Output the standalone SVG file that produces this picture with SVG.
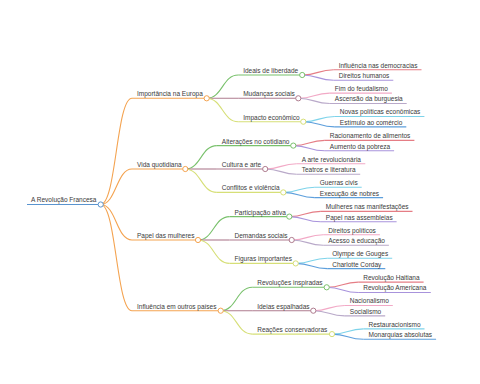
<svg xmlns="http://www.w3.org/2000/svg" width="480" height="384" viewBox="0 0 480 384">
<style>
text{font-family:"Liberation Sans",Arial,sans-serif;font-size:6.5px;fill:#3a3a3a}
path,line{fill:none;stroke-width:1.1}
circle{fill:#fff;stroke-width:1}
.blu{stroke:#5a94cf}.org{stroke:#f4a350}.grn{stroke:#79c16c}.mav{stroke:#ae7b8e}.yel{stroke:#d6df77}
.red{stroke:#e57d85}.pur{stroke:#a893dc}.pnk{stroke:#f2a9c6}.lav{stroke:#b9a9c9}.cya{stroke:#7dd3ea}.bl2{stroke:#5d9fdc}
</style>
<rect width="480" height="384" fill="#fff"/>
<g id="connectors">
<path class="org" d="M100.7,204.5 C116.3,204.5 116.3,98.3 132,98.3"/>
<path class="org" d="M100.7,204.5 C116.3,204.5 116.3,169 132,169"/>
<path class="org" d="M100.7,204.5 C116.3,204.5 116.3,240 132,240"/>
<path class="org" d="M100.7,204.5 C116.3,204.5 116.3,310.7 132,310.7"/>
<path class="grn" d="M206.7,98.3 C222.5,98.3 222.5,75 238.2,75"/>
<path class="mav" d="M206.7,98.3 L238.2,98.3"/>
<path class="yel" d="M206.7,98.3 C222.5,98.3 222.5,121.7 238.2,121.7"/>
<path class="grn" d="M185.3,169 C201,169 201,145.6 216.8,145.6"/>
<path class="mav" d="M185.3,169 L216.8,169"/>
<path class="yel" d="M185.3,169 C201,169 201,192.4 216.8,192.4"/>
<path class="grn" d="M198,240 C213.8,240 213.8,216.6 229.5,216.6"/>
<path class="mav" d="M198,240 L229.5,240"/>
<path class="yel" d="M198,240 C213.8,240 213.8,263.4 229.5,263.4"/>
<path class="grn" d="M220.7,310.7 C236.5,310.7 236.5,287.3 252.2,287.3"/>
<path class="mav" d="M220.7,310.7 L252.2,310.7"/>
<path class="yel" d="M220.7,310.7 C236.5,310.7 236.5,334.1 252.2,334.1"/>
<path class="red" d="M302.2,75 C318,75 318,69.8 333.7,69.8"/>
<path class="pur" d="M302.2,75 C318,75 318,80.2 333.7,80.2"/>
<path class="pnk" d="M298.3,98.3 C314,98.3 314,93.1 329.8,93.1"/>
<path class="lav" d="M298.3,98.3 C314,98.3 314,103.5 329.8,103.5"/>
<path class="cya" d="M303.3,121.7 C319,121.7 319,116.5 334.8,116.5"/>
<path class="bl2" d="M303.3,121.7 C319,121.7 319,126.9 334.8,126.9"/>
<path class="red" d="M293.3,145.6 C309,145.6 309,140.4 324.8,140.4"/>
<path class="pur" d="M293.3,145.6 C309,145.6 309,150.8 324.8,150.8"/>
<path class="pnk" d="M265.2,169 C281,169 281,163.8 296.7,163.8"/>
<path class="lav" d="M265.2,169 C281,169 281,174.2 296.7,174.2"/>
<path class="cya" d="M283.3,192.4 C299,192.4 299,187.2 314.8,187.2"/>
<path class="bl2" d="M283.3,192.4 C299,192.4 299,197.6 314.8,197.6"/>
<path class="red" d="M289.3,216.6 C305,216.6 305,211.4 320.8,211.4"/>
<path class="pur" d="M289.3,216.6 C305,216.6 305,221.8 320.8,221.8"/>
<path class="pnk" d="M291.7,240 C307.5,240 307.5,234.8 323.2,234.8"/>
<path class="lav" d="M291.7,240 C307.5,240 307.5,245.2 323.2,245.2"/>
<path class="cya" d="M295.7,263.4 C311.5,263.4 311.5,258.2 327.2,258.2"/>
<path class="bl2" d="M295.7,263.4 C311.5,263.4 311.5,268.6 327.2,268.6"/>
<path class="red" d="M326.7,287.3 C342.5,287.3 342.5,282.1 358.2,282.1"/>
<path class="pur" d="M326.7,287.3 C342.5,287.3 342.5,292.5 358.2,292.5"/>
<path class="pnk" d="M313.3,310.7 C329,310.7 329,305.5 344.8,305.5"/>
<path class="lav" d="M313.3,310.7 C329,310.7 329,315.9 344.8,315.9"/>
<path class="cya" d="M332,334.1 C347.8,334.1 347.8,328.9 363.5,328.9"/>
<path class="bl2" d="M332,334.1 C347.8,334.1 347.8,339.3 363.5,339.3"/>
</g>
<g id="root"><line class="blu" x1="27" y1="204.5" x2="100.7" y2="204.5"/><text x="31" y="202.4">A Revolução Francesa</text><circle class="blu" cx="100.7" cy="204.5" r="2.6"/></g>
<g id="n-europa"><line class="org" x1="132" y1="98.3" x2="206.7" y2="98.3"/><text x="137" y="96.2">Importância na Europa</text><circle class="org" cx="206.7" cy="98.3" r="2.6"/></g>
<g id="n-vida"><line class="org" x1="132" y1="169" x2="185.3" y2="169"/><text x="137" y="166.9">Vida quotidiana</text><circle class="org" cx="185.3" cy="169" r="2.6"/></g>
<g id="n-mulheres"><line class="org" x1="132" y1="240" x2="198" y2="240"/><text x="137" y="237.9">Papel das mulheres</text><circle class="org" cx="198" cy="240" r="2.6"/></g>
<g id="n-influencia"><line class="org" x1="132" y1="310.7" x2="220.7" y2="310.7"/><text x="137" y="308.6">Influência em outros países</text><circle class="org" cx="220.7" cy="310.7" r="2.6"/></g>
<g id="n-ideais"><line class="grn" x1="238.2" y1="75" x2="302.2" y2="75"/><text x="243.2" y="72.9">Ideais de liberdade</text><circle class="grn" cx="302.2" cy="75" r="2.6"/></g>
<g id="n-mudancas"><line class="mav" x1="238.2" y1="98.3" x2="298.3" y2="98.3"/><text x="243.2" y="96.2">Mudanças sociais</text><circle class="mav" cx="298.3" cy="98.3" r="2.6"/></g>
<g id="n-impacto"><line class="yel" x1="238.2" y1="121.7" x2="303.3" y2="121.7"/><text x="243.2" y="119.6">Impacto econômico</text><circle class="yel" cx="303.3" cy="121.7" r="2.6"/></g>
<g id="n-alteracoes"><line class="grn" x1="216.8" y1="145.6" x2="293.3" y2="145.6"/><text x="221.8" y="143.5">Alterações no cotidiano</text><circle class="grn" cx="293.3" cy="145.6" r="2.6"/></g>
<g id="n-cultura"><line class="mav" x1="216.8" y1="169" x2="265.2" y2="169"/><text x="221.8" y="166.9">Cultura e arte</text><circle class="mav" cx="265.2" cy="169" r="2.6"/></g>
<g id="n-conflitos"><line class="yel" x1="216.8" y1="192.4" x2="283.3" y2="192.4"/><text x="221.8" y="190.3">Conflitos e violência</text><circle class="yel" cx="283.3" cy="192.4" r="2.6"/></g>
<g id="n-participacao"><line class="grn" x1="229.5" y1="216.6" x2="289.3" y2="216.6"/><text x="234.5" y="214.5">Participação ativa</text><circle class="grn" cx="289.3" cy="216.6" r="2.6"/></g>
<g id="n-demandas"><line class="mav" x1="229.5" y1="240" x2="291.7" y2="240"/><text x="234.5" y="237.9">Demandas sociais</text><circle class="mav" cx="291.7" cy="240" r="2.6"/></g>
<g id="n-figuras"><line class="yel" x1="229.5" y1="263.4" x2="295.7" y2="263.4"/><text x="234.5" y="261.3">Figuras importantes</text><circle class="yel" cx="295.7" cy="263.4" r="2.6"/></g>
<g id="n-revolucoes"><line class="grn" x1="252.2" y1="287.3" x2="326.7" y2="287.3"/><text x="257.2" y="285.2">Revoluções inspiradas</text><circle class="grn" cx="326.7" cy="287.3" r="2.6"/></g>
<g id="n-ideias"><line class="mav" x1="252.2" y1="310.7" x2="313.3" y2="310.7"/><text x="257.2" y="308.6">Ideias espalhadas</text><circle class="mav" cx="313.3" cy="310.7" r="2.6"/></g>
<g id="n-reacoes"><line class="yel" x1="252.2" y1="334.1" x2="332" y2="334.1"/><text x="257.2" y="332">Reações conservadoras</text><circle class="yel" cx="332" cy="334.1" r="2.6"/></g>
<g id="l-democracias"><line class="red" x1="333.7" y1="69.8" x2="421.5" y2="69.8"/><text x="338.7" y="67.7">Influência nas democracias</text></g>
<g id="l-direitos"><line class="pur" x1="333.7" y1="80.2" x2="393.3" y2="80.2"/><text x="338.7" y="78.1">Direitos humanos</text></g>
<g id="l-feudalismo"><line class="pnk" x1="329.8" y1="93.1" x2="391.9" y2="93.1"/><text x="334.8" y="91">Fim do feudalismo</text></g>
<g id="l-burguesia"><line class="lav" x1="329.8" y1="103.5" x2="406.7" y2="103.5"/><text x="334.8" y="101.4">Ascensão da burguesia</text></g>
<g id="l-politicas"><line class="cya" x1="334.8" y1="116.5" x2="424.4" y2="116.5"/><text x="339.8" y="114.4">Novas políticas econômicas</text></g>
<g id="l-estimulo"><line class="bl2" x1="334.8" y1="126.9" x2="406.3" y2="126.9"/><text x="339.8" y="124.8">Estímulo ao comércio</text></g>
<g id="l-racionamento"><line class="red" x1="324.8" y1="140.4" x2="414.4" y2="140.4"/><text x="329.8" y="138.3">Racionamento de alimentos</text></g>
<g id="l-pobreza"><line class="pur" x1="324.8" y1="150.8" x2="394.1" y2="150.8"/><text x="329.8" y="148.7">Aumento da pobreza</text></g>
<g id="l-arte"><line class="pnk" x1="296.7" y1="163.8" x2="365.3" y2="163.8"/><text x="301.7" y="161.7">A arte revolucionária</text></g>
<g id="l-teatros"><line class="lav" x1="296.7" y1="174.2" x2="360.2" y2="174.2"/><text x="301.7" y="172.1">Teatros e literatura</text></g>
<g id="l-guerras"><line class="cya" x1="314.8" y1="187.2" x2="361.7" y2="187.2"/><text x="319.8" y="185.1">Guerras civis</text></g>
<g id="l-execucao"><line class="bl2" x1="314.8" y1="197.6" x2="383.1" y2="197.6"/><text x="319.8" y="195.5">Execução de nobres</text></g>
<g id="l-manifestacoes"><line class="red" x1="320.8" y1="211.4" x2="412.5" y2="211.4"/><text x="325.8" y="209.3">Mulheres nas manifestações</text></g>
<g id="l-assembleias"><line class="pur" x1="320.8" y1="221.8" x2="396.6" y2="221.8"/><text x="325.8" y="219.7">Papel nas assembleias</text></g>
<g id="l-politicos"><line class="pnk" x1="323.2" y1="234.8" x2="379.9" y2="234.8"/><text x="328.2" y="232.7">Direitos políticos</text></g>
<g id="l-educacao"><line class="lav" x1="323.2" y1="245.2" x2="388.9" y2="245.2"/><text x="328.2" y="243.1">Acesso à educação</text></g>
<g id="l-olympe"><line class="cya" x1="327.2" y1="258.2" x2="392.2" y2="258.2"/><text x="332.2" y="256.1">Olympe de Gouges</text></g>
<g id="l-charlotte"><line class="bl2" x1="327.2" y1="268.6" x2="385.3" y2="268.6"/><text x="332.2" y="266.5">Charlotte Corday</text></g>
<g id="l-haitiana"><line class="red" x1="358.2" y1="282.1" x2="423.6" y2="282.1"/><text x="363.2" y="280">Revolução Haitiana</text></g>
<g id="l-americana"><line class="pur" x1="358.2" y1="292.5" x2="430.8" y2="292.5"/><text x="363.2" y="290.4">Revolução Americana</text></g>
<g id="l-nacionalismo"><line class="pnk" x1="344.8" y1="305.5" x2="392.8" y2="305.5"/><text x="349.8" y="303.4">Nacionalismo</text></g>
<g id="l-socialismo"><line class="lav" x1="344.8" y1="315.9" x2="385.2" y2="315.9"/><text x="349.8" y="313.8">Socialismo</text></g>
<g id="l-restauracionismo"><line class="cya" x1="363.5" y1="328.9" x2="424.5" y2="328.9"/><text x="368.5" y="326.8">Restauracionismo</text></g>
<g id="l-monarquias"><line class="bl2" x1="363.5" y1="339.3" x2="436.1" y2="339.3"/><text x="368.5" y="337.2">Monarquias absolutas</text></g>
</svg>
